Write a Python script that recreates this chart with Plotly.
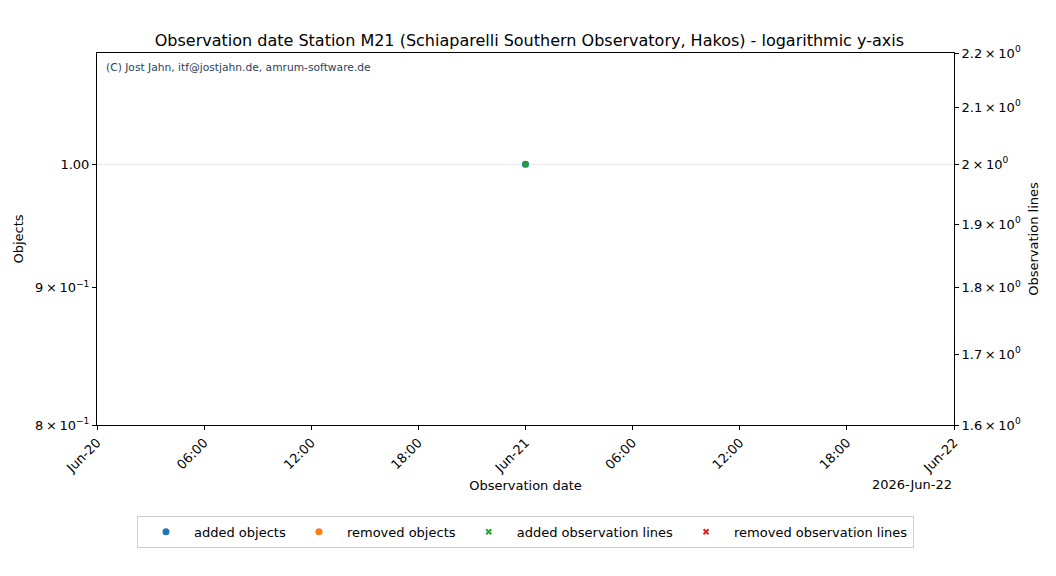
import plotly.graph_objects as go

# Data
dates_added_objects = ["2026-06-21 00:00"]
added_objects = [1]
dates_removed_objects = ["2026-06-21 00:00"]
removed_objects = [0]
dates_added_lines = ["2026-06-21 00:00"]
added_lines = [2]
dates_removed_lines = ["2026-06-21 00:00"]
removed_lines = [0]

x_tick_vals = ["2026-06-20 00:00", "2026-06-20 06:00", "2026-06-20 12:00", "2026-06-20 18:00",
               "2026-06-21 00:00", "2026-06-21 06:00", "2026-06-21 12:00", "2026-06-21 18:00",
               "2026-06-22 00:00"]
x_tick_text = ["Jun-20", "06:00", "12:00", "18:00", "Jun-21", "06:00", "12:00", "18:00", "Jun-22"]

S = "\u2009×\u2009"
left_tick_vals = [0.8, 0.9, 1.0]
left_tick_text = ["8" + S + "10<sup>−1</sup>", "9" + S + "10<sup>−1</sup>", "1.00"]
right_tick_vals = [1.6, 1.7, 1.8, 1.9, 2.0, 2.1, 2.2]
right_tick_text = [v + S + "10<sup>0</sup>" for v in ["1.6", "1.7", "1.8", "1.9", "2", "2.1", "2.2"]]

FONT = "DejaVu Sans"
fig = go.Figure()
fig.add_trace(go.Scatter(x=dates_added_objects, y=added_objects, mode="markers", name="added objects",
                         marker=dict(color="#1f77b4", size=7, symbol="circle"), yaxis="y"))
fig.add_trace(go.Scatter(x=dates_removed_objects, y=removed_objects, mode="markers", name="removed objects",
                         marker=dict(color="#ff7f0e", size=7, symbol="circle"), yaxis="y"))
fig.add_trace(go.Scatter(x=dates_added_lines, y=added_lines, mode="markers", name="added observation lines",
                         marker=dict(color="#2ca02c", size=5, symbol="x-thin", line=dict(color="#2ca02c", width=2)), yaxis="y2"))
fig.add_trace(go.Scatter(x=dates_removed_lines, y=removed_lines, mode="markers", name="removed observation lines",
                         marker=dict(color="#d62728", size=5, symbol="x-thin", line=dict(color="#d62728", width=2)), yaxis="y2"))

fig.add_shape(type="line", xref="paper", x0=0, x1=1, yref="y", y0=1.0, y1=1.0,
              line=dict(color="#e6e6e6", width=1), layer="below")

fig.update_layout(
    width=1048, height=568,
    margin=dict(l=89, r=102, t=45, b=151, autoexpand=False),
    paper_bgcolor="white", plot_bgcolor="white",
    font=dict(family=FONT, size=13, color="black"),
    title=dict(text="Observation date Station M21 (Schiaparelli Southern Observatory, Hakos) - logarithmic y-axis",
               x=0.4975, xanchor="center", y=1 - 32 / 568, yanchor="middle", font=dict(size=16)),
    xaxis=dict(type="date", range=["2026-06-20 00:00", "2026-06-22 00:00"],
               tickvals=x_tick_vals, ticktext=x_tick_text, tickangle=-45,
               showgrid=False, zeroline=False, showline=True, linecolor="black", mirror=True,
               ticks="outside", ticklen=4, tickcolor="black",
               title=dict(text="Observation date", font=dict(size=13), standoff=5)),
    yaxis=dict(type="log", range=[-0.09691, 0.041393], tickvals=left_tick_vals, ticktext=left_tick_text,
               showgrid=False, zeroline=False, showline=True, linecolor="black",
               ticks="outside", ticklen=4, tickcolor="black",
               title=dict(text="Objects", font=dict(size=13), standoff=8)),
    yaxis2=dict(type="log", range=[0.20412, 0.342423], tickvals=right_tick_vals, ticktext=right_tick_text,
                overlaying="y", side="right", showgrid=False, zeroline=False, showline=True, linecolor="black",
                ticks="outside", ticklen=4, tickcolor="black",
                title=dict(text="Observation lines", font=dict(size=13), standoff=8)),
    legend=dict(orientation="h", x=0.5, xanchor="center", y=-0.244, yanchor="top",
                bordercolor="#d0d0d0", borderwidth=1, font=dict(size=13),
                itemsizing="trace", itemwidth=46),
    showlegend=True,
)

fig.add_annotation(text="(C) Jost Jahn, itf@jostjahn.de, amrum-software.de", xref="paper", yref="paper",
                   x=0.008, y=0.985, xanchor="left", yanchor="top", showarrow=False,
                   font=dict(size=10.7, color="#2a3f5f"))
fig.add_annotation(text="2026-Jun-22", xref="paper", yref="paper", x=1.0, y=-0.16, xanchor="right",
                   yanchor="middle", showarrow=False, font=dict(size=13))

fig.write_html("out.html")
